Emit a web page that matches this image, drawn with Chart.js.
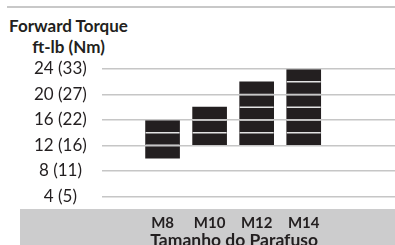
<!DOCTYPE html>
<html>
<head>
<meta charset="utf-8">
<script src="https://cdn.jsdelivr.net/npm/chart.js@4/dist/chart.umd.min.js"></script>
<style>
  html, body { margin: 0; padding: 0; background: #fff; overflow: hidden; }
  #wrap { position: relative; width: 395px; height: 245px; }
  #topRule { position: absolute; left: 7px; right: 0; top: 6px; height: 2px; background: #c8c8c8; }
  #heading {
    position: absolute; left: 0; top: 15px; width: 137px;
    text-align: center; font: bold 17px Lato, sans-serif; line-height: 21px; color: #231f20;
  }
  #chart { position: absolute; left: 0; top: 0; }
</style>
</head>
<body>
<div id="wrap">
  <div id="topRule"></div>
  <div id="heading">Forward Torque<br>ft-lb (Nm)</div>
  <canvas id="chart" width="395" height="245"></canvas>
</div>
<script>
// --------------------------
// data
// --------------------------
const boltSizes = ["M8", "M10", "M12", "M14"];
const torqueLow = [10, 12, 12, 12];   // ft-lb
const torqueHigh = [16, 18, 22, 24];  // ft-lb
const yTickValues = [4, 8, 12, 16, 20, 24];
const yTickLabels = ["4 (5)", "8 (11)", "12 (16)", "16 (22)", "20 (27)", "24 (33)"];
const xTitle = "Tamanho do Parafuso";

const INK = "#231f20";
const BAND = "#cccccd";
const GRID = "#c6c6c6";

// серая полоса под графиком + подпись оси
const bandPlugin = {
  id: "band",
  beforeDraw(chart) {
    const { ctx, chartArea, width, height } = chart;
    ctx.save();
    ctx.fillStyle = BAND;
    ctx.fillRect(20, chartArea.bottom, width - 20, height - chartArea.bottom);
    ctx.restore();
  },
  afterDraw(chart) {
    const { ctx, scales } = chart;
    const x = scales.x;
    const cx = (x.getPixelForValue(1) + x.getPixelForValue(boltSizes.length)) / 2 + 1;
    ctx.save();
    ctx.fillStyle = INK;
    ctx.font = "bold 17.5px Lato, sans-serif";
    ctx.textAlign = "center";
    ctx.textBaseline = "alphabetic";
    ctx.fillText(xTitle, cx, 246);
    ctx.restore();
  }
};

// светлые полосы внутри столбцов каждые 2 единицы
const stripePlugin = {
  id: "stripes",
  afterDatasetsDraw(chart) {
    const { ctx, scales } = chart;
    const meta = chart.getDatasetMeta(0);
    ctx.save();
    ctx.strokeStyle = "#e4e4e4";
    ctx.lineWidth = 1.5;
    meta.data.forEach((bar, i) => {
      const half = bar.width / 2;
      for (let v = torqueLow[i] + 2; v < torqueHigh[i]; v += 2) {
        const y = scales.y.getPixelForValue(v);
        ctx.beginPath();
        ctx.moveTo(bar.x - half, y);
        ctx.lineTo(bar.x + half, y);
        ctx.stroke();
      }
    });
    ctx.restore();
  }
};

new Chart(document.getElementById("chart"), {
  type: "bar",
  data: {
    datasets: [{
      data: boltSizes.map((s, i) => ({ x: i + 1, y: [torqueLow[i], torqueHigh[i]] })),
      backgroundColor: INK,
      borderWidth: 0,
      barThickness: 34
    }]
  },
  options: {
    responsive: false,
    animation: false,
    layout: { padding: { left: 19, right: 0, top: 69, bottom: 8 } },
    plugins: { legend: { display: false }, tooltip: { enabled: false } },
    scales: {
      x: {
        type: "linear",
        offset: false,
        min: -0.29,
        max: 5.94,
        grid: { display: false, offset: false, drawTicks: false },
        border: { display: false },
        afterBuildTicks: axis => { axis.ticks = boltSizes.map((s, i) => ({ value: i + 1 })); },
        ticks: {
          padding: 5,
          autoSkip: false,
          maxRotation: 0,
          color: INK,
          font: { family: "Lato", size: 15, weight: "bold" },
          callback: v => boltSizes[v - 1]
        }
      },
      y: {
        min: 2,
        max: 24,
        border: { display: false },
        grid: { color: GRID, lineWidth: 1.5, drawTicks: false, z: 1 },
        afterBuildTicks: axis => { axis.ticks = yTickValues.map(v => ({ value: v })); },
        ticks: {
          padding: 15,
          crossAlign: "center",
          color: INK,
          font: { family: "Lato", size: 17 },
          callback: (v, idx) => yTickLabels[idx]
        }
      }
    }
  },
  plugins: [bandPlugin, stripePlugin]
});
</script>
</body>
</html>
